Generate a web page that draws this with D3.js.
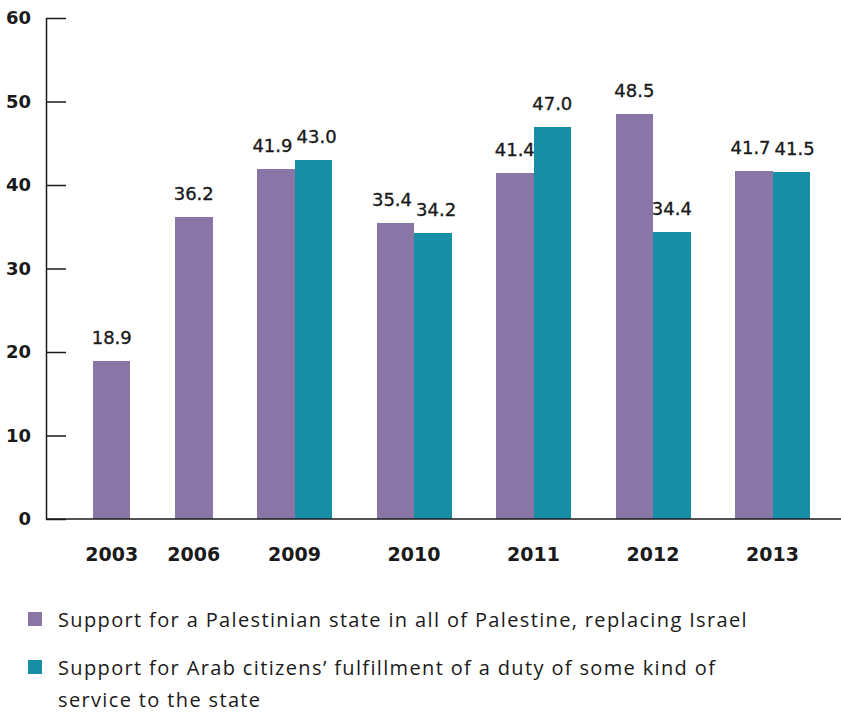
<!DOCTYPE html>
<html>
<head>
<meta charset="utf-8">
<script src="https://cdn.jsdelivr.net/npm/d3@7"></script>
<style>
  html, body { margin: 0; padding: 0; background: #ffffff; }
  svg { display: block; }
</style>
</head>
<body>
<svg id="chart" width="841" height="712"></svg>
<script>
// ---- data ----
const categories = ["2003", "2006", "2009", "2010", "2011", "2012", "2013"];
const palestinianState = [18.9, 36.2, 41.9, 35.4, 41.4, 48.5, 41.7];
const serviceDuty = [null, null, 43.0, 34.2, 47.0, 34.4, 41.5];
const yTicks = [0, 10, 20, 30, 40, 50, 60];
const legendLines = [
  ["Support for a Palestinian state in all of Palestine, replacing Israel"],
  ["Support for Arab citizens\u2019 fulfillment of a duty of some kind of", "service to the state"]
];
const seriesColors = ["#8975a6", "#168fa6"];

// ---- layout ----
const W = 841;
const axisX = 46;
const y0px = 519, y60px = 18;
const numFont = "'DejaVu Sans', sans-serif";
const legendFont = "'Open Sans', Lato, sans-serif";
const textColor = "#1a1a1a";

const svg = d3.select("#chart");

// x: linear scale in "bar units" (each bar 1 unit, gaps between groups in units)
const leadUnits = 1.253, gapUnits = 1.187, unitPx = 37.5;
const x = d3.scaleLinear().domain([0, (W - axisX) / unitPx]).range([axisX, W]);
const y = d3.scaleLinear().domain([0, 60]).range([y0px, y60px]);

// build groups
let cursor = leadUnits;
const groups = categories.map((c, i) => {
  const vals = [palestinianState[i], serviceDuty[i]]
    .map((v, s) => ({ v, s }))
    .filter(d => d.v !== null);
  const g = { cat: c, start: cursor, bars: vals.map((d, k) => ({ ...d, u: cursor + k })) };
  g.center = cursor + vals.length / 2;
  cursor += vals.length + gapUnits;
  return g;
});
const bars = groups.flatMap(g => g.bars.map(b => ({ ...b, cat: g.cat, n: g.bars.length })));
const barW = x(1) - x(0);

// bars
svg.append("g").selectAll("rect").data(bars).join("rect")
  .attr("x", d => x(d.u))
  .attr("y", d => y(d.v))
  .attr("width", barW)
  .attr("height", d => y(0) - y(d.v))
  .attr("fill", d => seriesColors[d.s])
  .attr("shape-rendering", "crispEdges");

// value labels
const labels = svg.append("g").selectAll("text").data(bars).join("text")
  .attr("x", d => x(d.u + 0.5))
  .attr("y", d => y(d.v) - 17)
  .attr("text-anchor", "middle")
  .attr("font-family", numFont)
  .attr("font-size", 18)
  .attr("fill", textColor)
  .attr("stroke", textColor)
  .attr("stroke-width", 0.35)
  .text(d => d.v.toFixed(1));

// nudge labels of a pair apart if they collide
groups.forEach(g => {
  if (g.bars.length < 2) return;
  const nodes = labels.filter(d => d.cat === g.cat).nodes();
  const [a, b] = nodes;
  const da = d3.select(a).datum(), db = d3.select(b).datum();
  if (Math.abs(y(da.v) - y(db.v)) < 16) {
    const wa = a.getComputedTextLength(), wb = b.getComputedTextLength();
    const overlap = wa / 2 + wb / 2 - barW + 4;
    if (overlap > 0) {
      d3.select(a).attr("x", x(da.u + 0.5) - overlap / 2);
      d3.select(b).attr("x", x(db.u + 0.5) + overlap / 2);
    }
  }
});

// y axis
const yAxis = d3.axisLeft(y).tickValues(yTicks).tickSizeInner(-20).tickSizeOuter(0).tickPadding(15);
const gy = svg.append("g").attr("transform", `translate(${axisX},0)`).call(yAxis);
gy.select(".domain").attr("stroke", textColor).attr("stroke-width", 1.5);
gy.selectAll(".tick line").attr("stroke", textColor).attr("stroke-width", 1.5);
gy.selectAll(".tick text")
  .attr("font-family", numFont)
  .attr("font-weight", "bold")
  .attr("font-size", 18)
  .attr("fill", textColor);

// x baseline
svg.append("line")
  .attr("x1", axisX).attr("x2", W)
  .attr("y1", y(0)).attr("y2", y(0))
  .attr("stroke", textColor).attr("stroke-width", 1.5);

// category labels
svg.append("g").selectAll("text").data(groups).join("text")
  .attr("x", d => x(d.center))
  .attr("y", 561)
  .attr("text-anchor", "middle")
  .attr("font-family", numFont)
  .attr("font-weight", "bold")
  .attr("font-size", 19)
  .attr("fill", textColor)
  .text(d => d.cat);

// legend
const legendTop = [612, 660];
const legendTexts = [];
legendLines.forEach((lines, i) => {
  const lg = svg.append("g");
  lg.append("rect")
    .attr("x", 28).attr("y", legendTop[i])
    .attr("width", 14).attr("height", 14)
    .attr("fill", seriesColors[i]);
  const t = lg.append("text")
    .attr("x", 58).attr("y", legendTop[i] + 15)
    .attr("font-family", legendFont)
    .attr("font-size", 20)
    .attr("fill", textColor);
  lines.forEach((ln, k) => {
    t.append("tspan").attr("x", 58).attr("dy", k === 0 ? 0 : 32).text(ln);
  });
  legendTexts.push(t);
});
// loosen letter spacing so the first legend line spans the same width as the reference
const firstSpan = legendTexts[0].select("tspan").node();
const natural = firstSpan.getComputedTextLength();
const target = 690;
const chars = legendLines[0][0].length;
const ls = Math.max(0, (target - natural) / chars);
legendTexts.forEach(t => t.attr("letter-spacing", ls));
</script>
</body>
</html>
